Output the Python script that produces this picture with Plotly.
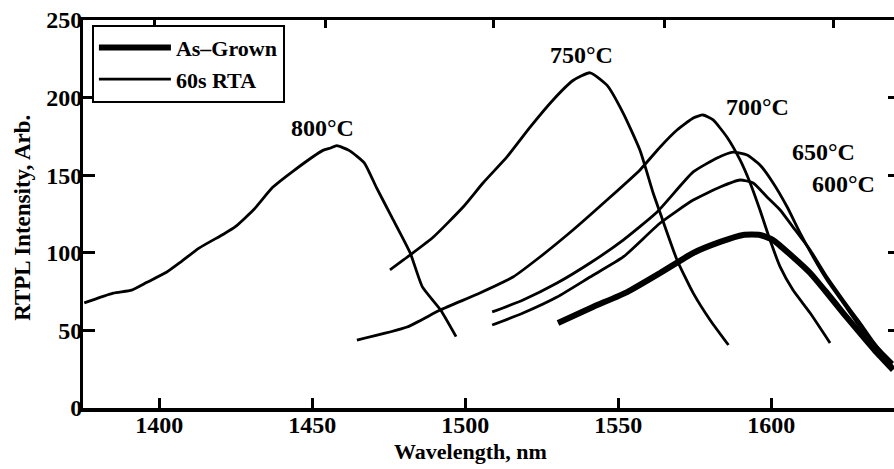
import plotly.graph_objects as go

# Room-temperature PL spectra: as-grown and after 60 s rapid thermal anneals
wl_800 = [1375.5, 1385, 1391, 1396, 1402.5, 1407, 1413, 1421, 1425, 1431, 1437, 1444,
          1453.5, 1456, 1458, 1462, 1467, 1471, 1476, 1482, 1486, 1492, 1497]
pl_800 = [67.7, 74, 76, 81, 87.6, 94, 103, 112, 117, 128, 142, 153,
          166, 167.5, 169, 166, 158, 142, 123, 100, 78, 63, 46]

wl_750 = [1475.4, 1482, 1489.5, 1499.3, 1505.8, 1513.7, 1521.2, 1528.7, 1535.2, 1540.8,
          1546.3, 1551.6, 1557.1, 1561.4, 1563.7, 1569.2, 1574.5, 1580, 1586]
pl_750 = [89, 98.6, 110, 129.5, 145, 162, 181, 198.5, 211, 216,
          208, 190, 166, 138.5, 125.6, 95.4, 74, 56.7, 40.6]

wl_700 = [1464.6, 1481, 1491.8, 1504.8, 1515.6, 1524.4, 1535.2, 1546.3, 1557.1, 1563.7,
          1569.2, 1574.5, 1577.7, 1581, 1585.5, 1589.8, 1593.1, 1596.3, 1599.6, 1602.9,
          1607.1, 1612.7, 1619.2]
pl_700 = [43.8, 52.2, 63.1, 74.1, 84.4, 97.3, 114.7, 134, 153.4, 168.2,
          179.1, 186.9, 188.8, 185.6, 174.6, 159.8, 145, 127.6, 108.2, 90.9,
          76, 61.2, 41.9]

wl_650 = [1508.8, 1518.9, 1530, 1540.8, 1551.6, 1562.7, 1574.5, 1582.3, 1587.5, 1592.1,
          1596.3, 1600.6, 1605.2, 1609.4, 1613.7, 1618.2, 1623.5, 1629, 1635.5, 1639.8]
pl_650 = [61.9, 69.6, 80.5, 93.4, 108.2, 126.3, 152.1, 161.1, 164.9, 163,
          156.6, 145, 129.5, 112.8, 97.3, 82.5, 67.7, 52.2, 37.4, 26.4]

wl_600 = [1508.8, 1518.9, 1530, 1540.8, 1551.6, 1563.7, 1574.5, 1583.3, 1589.8, 1594.1,
          1598.6, 1602.9, 1607.1, 1612.7, 1618.2, 1623.5, 1629, 1634.6, 1639.8]
pl_600 = [53.5, 61.2, 71.5, 84.4, 97.3, 119.2, 134, 142.4, 146.9, 145,
          136, 127.6, 116.6, 101.8, 84.4, 69.6, 54.8, 39.3, 29]

wl_grown = [1530.3, 1541.7, 1552.9, 1563.7, 1574.5, 1583.3, 1590.8, 1596.3, 1600.6,
            1607.1, 1612.7, 1618.2, 1623.5, 1629, 1634.6, 1639.8]
pl_grown = [54.8, 65.1, 74.7, 87, 99.9, 107, 111.5, 111.5, 108.2,
            97.3, 87, 74.1, 61.2, 48.3, 35.4, 24.5]

anneal_labels = ["800°C", "750°C", "700°C", "650°C", "600°C"]
label_wl = [1453.5, 1538.0, 1595.5, 1617.0, 1623.5]
label_pl = [180.4, 227.4, 193.9, 164.9, 144.5]

x_ticks = [1400, 1450, 1500, 1550, 1600]
top_ticks = [1398.6, 1454.2, 1509.1, 1565.0, 1620.4]
y_ticks = [0, 50, 100, 150, 200, 250]
x_range = [1375.1, 1640.1]
y_range = [0, 250]

FONT = "Liberation Serif"
INK = "black"

fig = go.Figure()

fig.add_trace(go.Scatter(
    x=wl_grown, y=pl_grown, mode="lines", name="As\u2013Grown",
    line=dict(color=INK, width=6, shape="spline", smoothing=0.5),
    xaxis="x2", yaxis="y2",
))

rta = [(wl_800, pl_800), (wl_750, pl_750), (wl_700, pl_700),
       (wl_650, pl_650), (wl_600, pl_600)]
for i, (xs, ys) in enumerate(rta):
    fig.add_trace(go.Scatter(
        x=xs, y=ys, mode="lines", name="60s RTA",
        showlegend=(i == 0),
        line=dict(color=INK, width=2.8, shape="spline", smoothing=0.5),
    ))

for text, lx, ly in zip(anneal_labels, label_wl, label_pl):
    fig.add_annotation(
        x=lx, y=ly, xref="x", yref="y", text=text, showarrow=False,
        font=dict(family=FONT, size=24, color=INK, weight="bold"),
    )

fig.add_annotation(
    x=(470 - 83) / 811, y=-0.113, xref="paper", yref="paper",
    xanchor="center", yanchor="middle",
    text="<b>Wavelength, nm</b>", showarrow=False,
    font=dict(family=FONT, size=22, color=INK),
)
fig.add_annotation(
    x=-0.074, y=0.49, xref="paper", yref="paper", textangle=-90,
    xanchor="center", yanchor="middle",
    text="<b>RTPL Intensity, Arb.</b>", showarrow=False,
    font=dict(family=FONT, size=23, color=INK),
)

tick_font = dict(family=FONT, size=24, color=INK, weight="bold")

fig.update_layout(
    width=894, height=469,
    margin=dict(l=83, r=0, t=20, b=61),
    paper_bgcolor="white", plot_bgcolor="white",
    showlegend=True,
    legend=dict(
        x=0.011, y=0.988, xanchor="left", yanchor="top",
        bgcolor="white", bordercolor=INK, borderwidth=2,
        font=dict(family=FONT, size=22, color=INK, weight="bold"),
        itemwidth=72, tracegroupgap=0,
    ),
    xaxis=dict(
        range=x_range, tickmode="array", tickvals=x_ticks,
        ticks="inside", ticklen=10, tickwidth=3, tickcolor=INK,
        showline=True, linewidth=4, linecolor=INK,
        showgrid=False, zeroline=False, tickfont=tick_font,
        ticklabelstandoff=-8,
    ),
    yaxis=dict(
        range=y_range, tickmode="array", tickvals=y_ticks,
        ticks="inside", ticklen=12, tickwidth=3, tickcolor=INK,
        showline=True, linewidth=3, linecolor=INK,
        showgrid=False, zeroline=False, tickfont=tick_font,
        ticklabelstandoff=-7,
    ),
    xaxis2=dict(
        range=x_range, overlaying="x", side="top", anchor="y2",
        tickmode="array", tickvals=top_ticks, showticklabels=False,
        ticks="inside", ticklen=8, tickwidth=3, tickcolor=INK,
        showline=True, linewidth=3, linecolor=INK,
        showgrid=False, zeroline=False,
    ),
    yaxis2=dict(
        range=y_range, overlaying="y", side="right", anchor="x2",
        tickmode="array", tickvals=y_ticks[1:5], showticklabels=False,
        ticks="inside", ticklen=6, tickwidth=3, tickcolor=INK,
        showline=False, showgrid=False, zeroline=False,
    ),
)

fig.write_html("out.html")
